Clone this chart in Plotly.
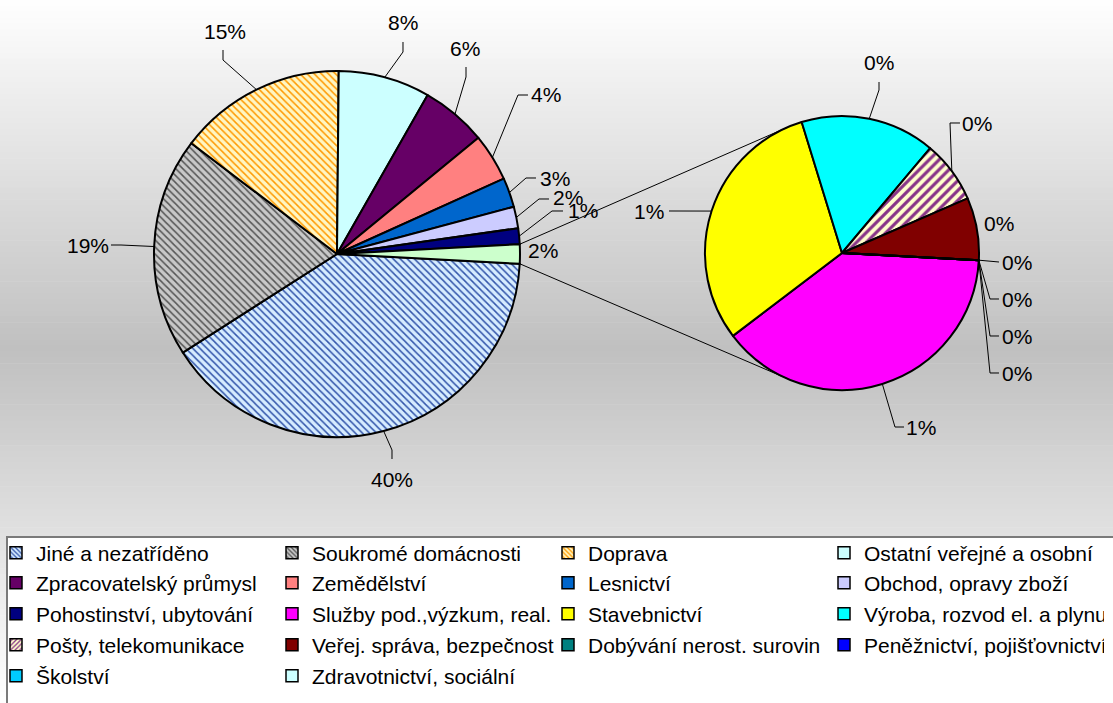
import math
import plotly.graph_objects as go

W, H = 1113, 703

# ---------------- data (% of total) ----------------
main_categories = [
    "Jiné a nezatříděno", "Soukromé domácnosti", "Doprava", "Ostatní veřejné a osobní",
    "Zpracovatelský průmysl", "Zemědělství", "Lesnictví", "Obchod, opravy zboží",
    "Pohostinství, ubytování",
]
main_values = [40.1, 19.4, 14.8, 8.1, 5.8, 4.2, 2.6, 1.9, 1.4]

sec_categories = [
    "Služby pod.,výzkum, real.", "Stavebnictví", "Výroba, rozvod el. a plynu",
    "Pošty, telekomunikace", "Veřej. správa, bezpečnost", "Dobývání nerost. surovin",
    "Peněžnictví, pojišťovnictví", "Školství", "Zdravotnictví, sociální",
]
sec_values = [0.66, 0.52, 0.27, 0.125, 0.125, 0.0, 0.0, 0.0, 0.0]

other_label = "Ostatní odvětví"

# ---------------- styles ----------------
FONT = "Liberation Sans, Arial, sans-serif"
FS = 21

main_colors = ["#D6ECFF", "#C8C8C8", "#FFF6C2", "#CCFFFF", "#660066",
               "#FF8080", "#0066CC", "#CCCCFF", "#000080"]
main_pat_shape = ["\\", "\\", "\\", "", "", "", "", "", ""]
main_pat_fg = ["#3355AA", "#555555", "#FF9900", "#000000", "#000000",
               "#000000", "#000000", "#000000", "#000000"]
other_color = "#CCFFCC"

sec_colors = ["#FF00FF", "#FFFF00", "#00FFFF", "#FFFFCC", "#800000",
              "#008080", "#0000FF", "#00CCFF", "#CCFFFF"]
sec_pat_shape = ["", "", "", "/", "", "", "", "", ""]
sec_pat_fg = ["#000000", "#000000", "#000000", "#883388", "#000000",
              "#000000", "#000000", "#000000", "#000000"]

# geometry (pixels)
MAIN_C, MAIN_R = (337, 254), 183
SEC_C, SEC_R = (842, 253), 137

# label layout: text centre, leader waypoints (from text side towards slice edge)
main_label_layout = [
    (392, 479, [(392, 459), (392, 450)]),
    (88, 245, [(111, 245), (121, 245)]),
    (225, 32, [(223, 50), (223, 60)]),
    (403, 22, [(403, 42), (403, 52)]),
    (465, 48, [(466, 67), (466, 77)]),
    (546, 95, [(528, 95), (518, 95)]),
    (555, 178, [(536, 178), (526, 178)]),
    (568, 198, [(549, 199), (539, 199)]),
    (583, 210, [(563, 211), (552, 211)]),
    (543, 250, None),
]
sec_label_layout = [
    (921, 427, [(904, 427), (895, 427)]),
    (649, 212, [(669, 211)]),
    (879, 63, [(879, 82), (879, 90)]),
    (977, 123, [(960, 123), (950, 123)]),
    (999, 223, None),
    (1017, 262, [(999, 262)]),
    (1017, 299, [(999, 299), (990, 299)]),
    (1017, 336, [(999, 336), (990, 336)]),
    (1017, 373, [(999, 373), (990, 373)]),
]
legend_rows_y = [553, 583, 614, 645, 676]


def fx(x):
    return x / W


def fy(y):
    return 1 - y / H


def on_circle(c, r, ang_deg):
    a = math.radians(ang_deg)
    return (c[0] + r * math.sin(a), c[1] - r * math.cos(a))


def mids(values, rotation):
    tot = sum(values)
    acc = rotation
    out = []
    for v in values:
        a0 = acc
        acc += v / tot * 360.0
        out.append((a0 + acc) / 2)
    return out


def pct(v):
    return f"{int(math.floor(v + 0.5))}%"


other_value = sum(sec_values)
all_main_values = main_values + [other_value]
total = sum(all_main_values)
other_angle = other_value / total * 360.0
main_rotation = 90 + other_angle / 2
sec_rotation = 93

fig = go.Figure()

fig.add_trace(go.Pie(
    labels=main_categories + [other_label],
    values=all_main_values,
    sort=False, direction="clockwise", rotation=main_rotation,
    domain=dict(x=[fx(MAIN_C[0] - MAIN_R), fx(MAIN_C[0] + MAIN_R)],
                y=[fy(MAIN_C[1] + MAIN_R), fy(MAIN_C[1] - MAIN_R)]),
    marker=dict(colors=main_colors + [other_color],
                line=dict(color="black", width=2),
                pattern=dict(shape=main_pat_shape + [""],
                             fgcolor=main_pat_fg + ["#000000"],
                             bgcolor=main_colors + [other_color],
                             size=5, solidity=0.3, fillmode="replace")),
    textinfo="none", showlegend=False, hoverinfo="label+percent",
))

fig.add_trace(go.Pie(
    labels=sec_categories, values=sec_values,
    sort=False, direction="clockwise", rotation=sec_rotation,
    domain=dict(x=[fx(SEC_C[0] - SEC_R), fx(SEC_C[0] + SEC_R)],
                y=[fy(SEC_C[1] + SEC_R), fy(SEC_C[1] - SEC_R)]),
    marker=dict(colors=sec_colors,
                line=dict(color="black", width=2),
                pattern=dict(shape=sec_pat_shape, fgcolor=sec_pat_fg,
                             bgcolor=sec_colors, size=7, solidity=0.45,
                             fillmode="replace")),
    textinfo="none", showlegend=False, hoverinfo="label+value",
))

# legend entries (dummy bars so rows can be placed like the original)
all_cats = main_categories + sec_categories
all_colors = main_colors + sec_colors
all_shapes = main_pat_shape + sec_pat_shape
all_fg = main_pat_fg + sec_pat_fg


def legend_key(row):
    return "legend" if row == 0 else f"legend{row + 1}"


for i, name in enumerate(all_cats):
    fig.add_trace(go.Bar(
        x=[None], y=[None], name=name, legend=legend_key(i // 4),
        marker=dict(color=all_colors[i], line=dict(color="black", width=1.5),
                    pattern=dict(shape=all_shapes[i], fgcolor=all_fg[i],
                                 bgcolor=all_colors[i], size=4, solidity=0.4,
                                 fillmode="replace")),
        showlegend=True, hoverinfo="skip",
    ))

shapes = []
# background gradient
N = 120
for i in range(N):
    y0 = i * H / N
    y1 = (i + 1) * H / N
    yc = (y0 + y1) / 2
    f = max(0.0, 1 - abs(yc - 350) / 353)
    c = int(round(255 - 63 * f))
    shapes.append(dict(type="rect", xref="paper", yref="paper", layer="below",
                       x0=0, x1=1, y0=fy(y1 + 0.6), y1=fy(y0),
                       fillcolor=f"rgb({c},{c},{c})", line=dict(width=0)))
# legend box
shapes.append(dict(type="rect", xref="paper", yref="paper", layer="below",
                   x0=fx(7), x1=1.05, y0=-0.05, y1=fy(537),
                   fillcolor="white", line=dict(color="#7a7a7a", width=2)))


def path_of(points):
    return "M " + " L ".join(f"{fx(p[0]):.5f},{fy(p[1]):.5f}" for p in points)


annotations = []
main_mid = mids(all_main_values, main_rotation)
for i, v in enumerate(all_main_values):
    tx, ty, way = main_label_layout[i]
    annotations.append(dict(x=fx(tx), y=fy(ty), xref="paper", yref="paper",
                            text=pct(v), showarrow=False,
                            font=dict(family=FONT, size=FS, color="black"),
                            xanchor="center", yanchor="middle"))
    if way:
        edge = on_circle(MAIN_C, MAIN_R, main_mid[i])
        shapes.append(dict(type="path", xref="paper", yref="paper", layer="above",
                           path=path_of(way + [edge]),
                           line=dict(color="black", width=1)))

sec_mid = mids(sec_values, sec_rotation)
for i, v in enumerate(sec_values):
    tx, ty, way = sec_label_layout[i]
    annotations.append(dict(x=fx(tx), y=fy(ty), xref="paper", yref="paper",
                            text=pct(v), showarrow=False,
                            font=dict(family=FONT, size=FS, color="black"),
                            xanchor="center", yanchor="middle"))
    if way:
        edge = on_circle(SEC_C, SEC_R, sec_mid[i])
        shapes.append(dict(type="path", xref="paper", yref="paper", layer="above",
                           path=path_of(way + [edge]),
                           line=dict(color="black", width=1)))


# connector lines (pie of pie)
def tangent(p, c, r, upper):
    dx, dy = p[0] - c[0], p[1] - c[1]
    d = math.hypot(dx, dy)
    base = math.atan2(dy, dx)
    phi = math.acos(r / d)
    cands = [(c[0] + r * math.cos(base + s * phi), c[1] + r * math.sin(base + s * phi))
             for s in (1, -1)]
    return min(cands, key=lambda q: q[1]) if upper else max(cands, key=lambda q: q[1])


p_top = on_circle(MAIN_C, MAIN_R, main_rotation - other_angle)
p_bot = on_circle(MAIN_C, MAIN_R, main_rotation)
for p, up in ((p_top, True), (p_bot, False)):
    t = tangent(p, SEC_C, SEC_R, up)
    shapes.append(dict(type="line", xref="paper", yref="paper", layer="above",
                       x0=fx(p[0]), y0=fy(p[1]), x1=fx(t[0]), y1=fy(t[1]),
                       line=dict(color="black", width=1)))

legends = {}
for r, yrow in enumerate(legend_rows_y):
    legends[legend_key(r)] = dict(
        orientation="h", x=0, xanchor="left", y=fy(yrow), yanchor="middle",
        entrywidth=235, entrywidthmode="pixels", bgcolor="rgba(0,0,0,0)",
        borderwidth=0, indentation=-4,
        font=dict(family=FONT, size=FS, color="black"),
        traceorder="normal",
    )

fig.update_layout(
    width=W, height=H,
    margin=dict(l=0, r=0, t=0, b=0, pad=0, autoexpand=False),
    paper_bgcolor="white", plot_bgcolor="rgba(0,0,0,0)",
    xaxis=dict(visible=False), yaxis=dict(visible=False),
    shapes=shapes, annotations=annotations,
    font=dict(family=FONT, size=FS, color="black"),
    **legends,
)

fig.write_html("out.html", config={"displayModeBar": False},
               post_script="document.body.style.margin='0';")
